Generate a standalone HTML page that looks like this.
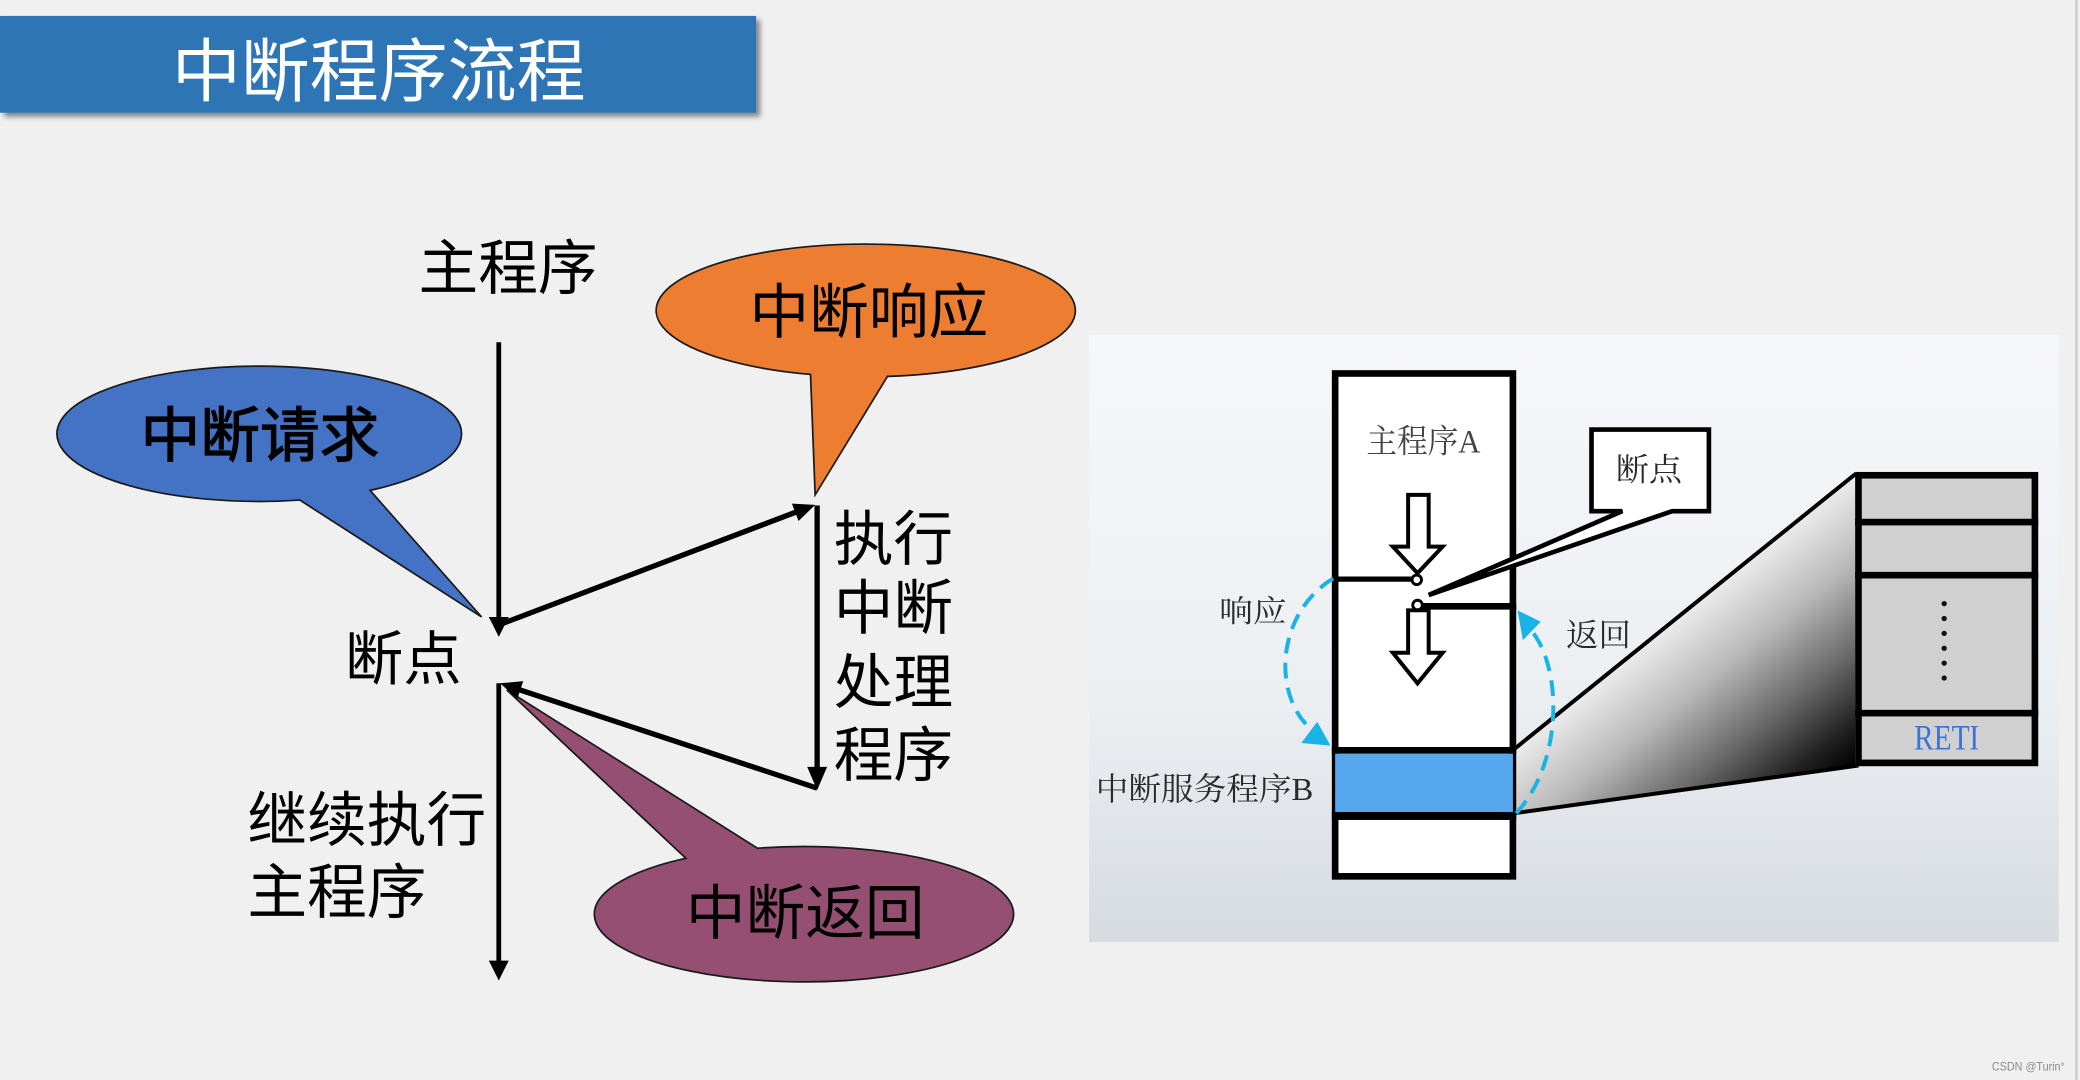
<!DOCTYPE html>
<html><head><meta charset="utf-8"><style>
html,body{margin:0;padding:0;background:#f0f0f0;overflow:hidden;}
svg{display:block;}
.s{font-family:"Liberation Sans","Noto Sans CJK SC",sans-serif;fill:#000;}
.r{font-family:"Liberation Serif","Noto Serif CJK SC",serif;fill:#2a2a2a;}
</style></head><body>
<svg width="2080" height="1080" viewBox="0 0 1568 814" preserveAspectRatio="none" xmlns="http://www.w3.org/2000/svg">
<defs>
<filter id="sh" x="-5%" y="-20%" width="115%" height="160%">
<feDropShadow dx="3" dy="3" stdDeviation="2" flood-color="#000" flood-opacity="0.45"/>
</filter>
<linearGradient id="pbg" x1="0" y1="0" x2="0" y2="1">
<stop offset="0" stop-color="#f6f7f9"/>
<stop offset="0.6" stop-color="#eceff2"/>
<stop offset="1" stop-color="#d6dbe0"/>
</linearGradient>
<linearGradient id="tg" gradientUnits="userSpaceOnUse" x1="1141" y1="565" x2="1248.6" y2="697.9">
<stop offset="0" stop-color="#ececec"/>
<stop offset="0.3" stop-color="#b8b8b8"/>
<stop offset="0.6" stop-color="#6a6a6a"/>
<stop offset="0.85" stop-color="#222"/>
<stop offset="1" stop-color="#000"/>
</linearGradient>
</defs>
<rect x="0" y="0" width="1568" height="814" fill="#f0f0f0"/>
<rect x="1564.5" y="0" width="1.6" height="814" fill="#c8c8c8"/>

<!-- Title -->
<rect x="0" y="12" width="570" height="73" fill="#2e75b6" filter="url(#sh)"/>
<text x="285.5" y="72" font-size="52" text-anchor="middle" class="s" style="fill:#fff">中断程序流程</text>

<!-- Left diagram labels -->
<text x="383" y="218" font-size="45" text-anchor="middle" class="s">主程序</text>

<!-- Blue bubble -->
<path d="M279,369.6 A152.5,51 0 1 0 226,376.9 L363,465 Z" fill="#4472c4" stroke="#1a1a1a" stroke-width="1.3"/>
<text x="196" y="344" font-size="45" text-anchor="middle" class="s" stroke="#000" stroke-width="0.9">中断请求</text>

<!-- Orange bubble -->
<path d="M669,283.7 A158,50 0 1 0 611,282.2 L614.5,373 Z" fill="#ed7d31" stroke="#1a1a1a" stroke-width="1.3"/>
<text x="655" y="251" font-size="45" text-anchor="middle" class="s">中断响应</text>

<!-- Purple bubble -->
<path d="M571,639.3 A158,51 0 1 1 517,646.9 L382,520 Z" fill="#954f72" stroke="#1a1a1a" stroke-width="1.3"/>
<text x="607" y="704" font-size="45" text-anchor="middle" class="s">中断返回</text>

<!-- Arrows -->
<line x1="376" y1="258" x2="376" y2="467" stroke="#000" stroke-width="3.6"/>
<polygon points="368.5,465 383.5,465 376,480" fill="#000"/>

<line x1="376" y1="471" x2="600" y2="386" stroke="#000" stroke-width="4"/>
<polygon points="614.5,380.5 602,392.7 597,379.6" fill="#000"/>

<line x1="616" y1="381" x2="616" y2="581" stroke="#000" stroke-width="4"/>
<polygon points="608.5,578 623.5,578 616,595.5" fill="#000"/>

<line x1="616" y1="594" x2="392" y2="520" stroke="#000" stroke-width="4"/>
<polygon points="377,515 394.4,513.4 390,526.7" fill="#000"/>

<line x1="376" y1="515" x2="376" y2="726" stroke="#000" stroke-width="3.6"/>
<polygon points="368.5,724 383.5,724 376,739" fill="#000"/>

<text x="304" y="512" font-size="44" text-anchor="middle" class="s">断点</text>
<text x="673.5" y="422" font-size="45" text-anchor="middle" class="s">执行</text>
<text x="673.5" y="474" font-size="45" text-anchor="middle" class="s">中断</text>
<text x="673.5" y="530" font-size="45" text-anchor="middle" class="s">处理</text>
<text x="673.5" y="585" font-size="45" text-anchor="middle" class="s">程序</text>
<text x="276.5" y="634" font-size="45" text-anchor="middle" class="s">继续执行</text>
<text x="254" y="688" font-size="45" text-anchor="middle" class="s">主程序</text>

<!-- Right panel -->
<rect x="821" y="252.5" width="731" height="457.5" fill="url(#pbg)"/>

<!-- gradient trapezoid -->
<polygon points="1141,565 1398.5,357 1398.5,577 1141,613" fill="url(#tg)"/>
<line x1="1141" y1="565" x2="1399" y2="357" stroke="#000" stroke-width="3"/>
<line x1="1141" y1="613" x2="1401" y2="577" stroke="#000" stroke-width="3"/>

<!-- Main box -->
<rect x="1006.5" y="281.5" width="134" height="379" fill="#fff" stroke="#000" stroke-width="5"/>
<rect x="1006.5" y="568" width="134" height="44" fill="#55a8ee"/>
<rect x="1004" y="563" width="139" height="5" fill="#000"/>
<rect x="1004" y="612" width="139" height="6" fill="#000"/>
<line x1="1004" y1="436.5" x2="1064.5" y2="436.5" stroke="#000" stroke-width="4"/>
<line x1="1072" y1="457" x2="1143" y2="457" stroke="#000" stroke-width="5"/>

<!-- hollow arrows -->
<polygon points="1061.5,373 1077,373 1077,412 1087.5,412 1068.6,432 1050,412 1061.5,412" fill="#fff" stroke="#000" stroke-width="3" stroke-linejoin="miter"/>
<polygon points="1061.5,460 1077,460 1077,492 1087.5,492 1068.6,515 1050,492 1061.5,492" fill="#fff" stroke="#000" stroke-width="3" stroke-linejoin="miter"/>

<!-- callout 断点 -->
<path d="M1199.75,323.75 H1288.25 V385.25 H1260.5 L1077,448.5 L1223,385.25 H1199.75 Z" fill="#fff" stroke="#000" stroke-width="3.5" stroke-linejoin="miter"/>
<circle cx="1068" cy="437" r="3.6" fill="#fff" stroke="#000" stroke-width="2.2"/>
<circle cx="1068.6" cy="456" r="3.6" fill="#fff" stroke="#000" stroke-width="2.2"/>
<text x="1243" y="362" font-size="24" text-anchor="middle" class="r" textLength="50" lengthAdjust="spacingAndGlyphs">断点</text>

<text x="1073" y="341" font-size="25" text-anchor="middle" class="r" style="fill:#444" textLength="86" lengthAdjust="spacingAndGlyphs">主程序A</text>

<!-- stack box -->
<rect x="1401" y="358.2" width="133" height="216.8" fill="#d0d0d0" stroke="#000" stroke-width="5"/>
<rect x="1398.5" y="391" width="138" height="5" fill="#000"/>
<rect x="1398.5" y="431" width="138" height="5" fill="#000"/>
<rect x="1398.5" y="535" width="138" height="5" fill="#000"/>
<g fill="#111">
<circle cx="1465.6" cy="455" r="2"/>
<circle cx="1465.6" cy="466.2" r="2"/>
<circle cx="1465.6" cy="477.4" r="2"/>
<circle cx="1465.6" cy="488.6" r="2"/>
<circle cx="1465.6" cy="499.8" r="2"/>
<circle cx="1465.6" cy="511" r="2"/>
</g>
<text x="1443" y="565" font-size="27" class="r" style="fill:#3b73d6" textLength="49" lengthAdjust="spacingAndGlyphs">RETI</text>

<!-- cyan dashed arcs -->
<path d="M1005,436 C962,462 958,525 990,551" fill="none" stroke="#1ab3e6" stroke-width="3" stroke-dasharray="12 7"/>
<polygon points="981,560 1003,562 993,544" fill="#1ab3e6"/>
<path d="M1143,613 C1178,575 1178,505 1155,476" fill="none" stroke="#1ab3e6" stroke-width="3" stroke-dasharray="12 7"/>
<polygon points="1144,460 1161.5,468.6 1148,482.5" fill="#1ab3e6"/>

<text x="944.5" y="469" font-size="23" text-anchor="middle" class="r" textLength="51" lengthAdjust="spacingAndGlyphs">响应</text>
<text x="1205" y="487" font-size="24" text-anchor="middle" class="r" textLength="49" lengthAdjust="spacingAndGlyphs">返回</text>
<text x="826" y="603" font-size="24" class="r" textLength="164" lengthAdjust="spacingAndGlyphs">中断服务程序B</text>

<!-- watermark -->
<text x="1501.6" y="807" font-size="9" class="s" style="fill:#8a8a8a" textLength="55" lengthAdjust="spacingAndGlyphs">CSDN @Turin°</text>
</svg>
</body></html>
